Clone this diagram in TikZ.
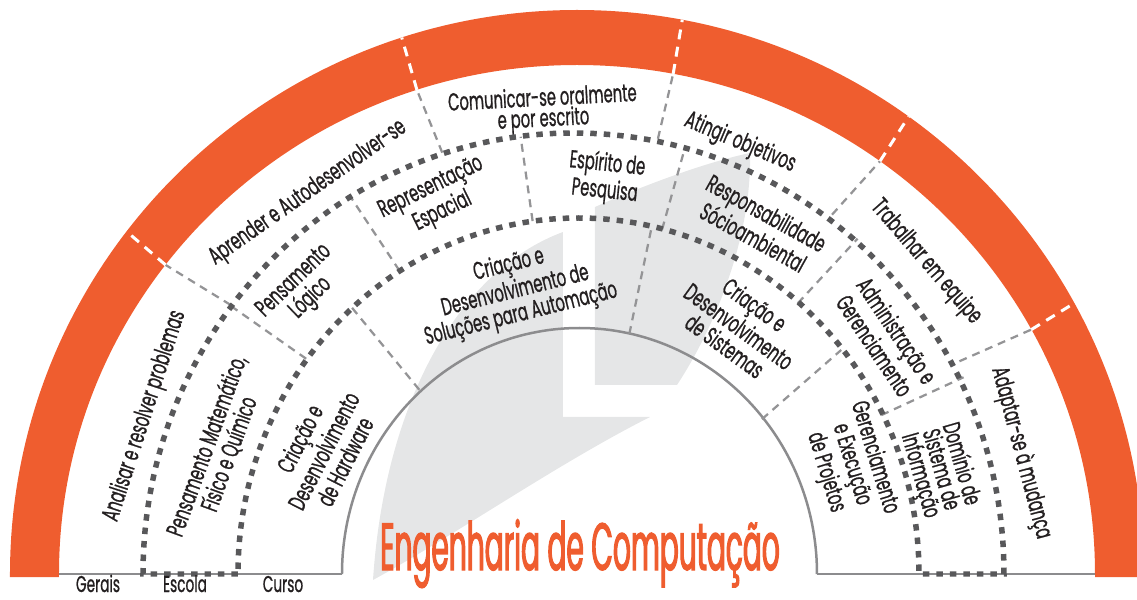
\documentclass[tikz,border=0pt]{standalone}
\usepackage{fontspec}
\setmainfont{Poppins}[FakeStretch=0.6, FakeBold=0.8]
\newfontfamily\titlefont{Poppins}[FakeStretch=0.42, FakeBold=1.6]
\usepackage{tikz}
\usetikzlibrary{calc}
\definecolor{ringorange}{RGB}{239,93,47}
\definecolor{dotgrey}{RGB}{88,88,90}
\definecolor{sepgrey}{RGB}{148,148,150}
\definecolor{logogrey}{RGB}{229,230,231}
\definecolor{groundgrey}{RGB}{140,140,142}
\definecolor{inkblack}{RGB}{35,31,32}
\tikzset{%
	ring/.style={fill=ringorange},
	bigdots/.style={draw=dotgrey, line width=0.11cm, dash pattern=on 0.13cm off 0.14cm},
	sep/.style={draw=sepgrey, line width=0.045cm, dash pattern=on 0.16cm off 0.12cm},
	ringsep/.style={draw=white, line width=0.06cm, dash pattern=on 0.2cm off 0.15cm},
	groundline/.style={draw=groundgrey, line width=0.05cm},
	logo/.style={fill=logogrey},
	lbl/.style={text=inkblack, align=center, inner sep=0pt, font=\fontsize{14}{13.6}\selectfont},
	bandlbl/.style={text=inkblack, inner sep=0pt, anchor=base, font=\fontsize{13}{13}\selectfont}
}

\begin{document}
\begin{tikzpicture}[x=0.02cm, y=0.02cm]
	\useasboundingbox (-577,-25) rectangle (560,574);

	% logo behind everything
	\fill[logo] (-204,-6) .. controls (-192,174) and (-117,304) .. (-14,342) -- (-14,157) -- (73,157)
		.. controls (-20,110) and (-120,40) .. (-204,-6) -- cycle;
	\fill[logo] (18,367) .. controls (70,390) and (130,412) .. (173,421)
		.. controls (175,340) and (140,250) .. (100,189) -- (18,189) -- cycle;

	% orange ring
	\fill[ring] (-567,-3) -- (-567,0) arc[start angle=180, end angle=0, x radius=567, y radius=564]
		-- (567,-3) -- (518,-3) -- (518,0) arc[start angle=0, end angle=180, x radius=518, y radius=509]
		-- (-518,-3) -- cycle;

	% ground line and inner arc
	\draw[groundline] (-518,0) -- (-235,0);
	\draw[groundline] (240,0) -- (518,0);
	\draw[groundline] (-235,0) arc[start angle=180, end angle=0, x radius=237.5, y radius=246];

	% separators
	\foreach \a in {142.6,108,79.3,54.2,28.7}{
		\draw[sep] (\a:436 and 443) -- (\a:518 and 509);
		\draw[ringsep] (\a:518 and 509) -- (\a:567 and 564);
	}
	\foreach \a in {142.8,121.5,97.5,75.5,49.5,26.5}
		\draw[sep] (\a:340 and 356) -- (\a:432 and 441);
	\foreach \a in {131.5,77.3,39}
		\draw[sep] (\a:238 and 246) -- (\a:340 and 356);

	% escola band
	\draw[bigdots] (-339,0) -- (-434,0) arc[start angle=180, end angle=0, x radius=430.5, y radius=441]
		-- (342,0) arc[start angle=0, end angle=180, x radius=340.5, y radius=356] -- cycle;

	% gerais
	\node[lbl, rotate=72] (analisar) at (-432,158) {Analisar e resolver problemas};
	\node[lbl, rotate=35] (aprender) at (-269,381) {Aprender e Autodesenvolver-se};
	\node[lbl, rotate=3, font=\fontsize{14}{10.5}\selectfont] (comunicar) at (-34,464) {Comunicar-se oralmente\\e por escrito};
	\node[lbl, rotate=-23] (atingir) at (163,431) {Atingir objetivos};
	\node[lbl, rotate=-49] (trabalhar) at (349,312) {Trabalhar em equipe};
	\node[lbl, rotate=-75] (adaptar) at (444,121) {Adaptar-se à mudança};

	% escola
	\node[lbl, rotate=70] (matematico) at (-359,124) {Pensamento Matemático,\\Físico e Químico};
	\node[lbl, rotate=44] (logico) at (-274,284) {Pensamento\\Lógico};
	\node[lbl, rotate=26] (espacial) at (-140,374) {Representação\\Espacial};
	\node[lbl, rotate=-6] (pesquisa) at (29,396) {Espírito de\\Pesquisa};
	\node[lbl, rotate=-29] (socio) at (183,349) {Responsabilidade\\Sócioambiental};
	\node[lbl, rotate=-56] (admin) at (309,236) {Administração e\\Gerenciamento};
	\node[lbl, rotate=-74, font=\fontsize{14}{12}\selectfont] (dominio) at (363,104) {Domínio de\\Sistema de\\Informação};

	% curso
	\node[lbl, rotate=63] (hardware) at (-255,124) {Criação e\\Desenvolvimento\\de Hardware};
	\node[lbl, rotate=14] (automacao) at (-62,284) {Criação e\\Desenvolvimento de\\Soluções para Automação};
	\node[lbl, rotate=-36] (sistemas) at (163,249) {Criação e\\Desenvolvimento\\de Sistemas};
	\node[lbl, rotate=-73] (projetos) at (273,109) {Gerenciamento\\e Execução\\de Projetos};

	% title and band names
	\node[text=ringorange, inner sep=0pt, anchor=base, font=\titlefont\fontsize{38}{40}\selectfont] (title) at (3,4) {Engenharia de Computação};
	\node[bandlbl] (gerais) at (-479,-18) {Gerais};
	\node[bandlbl] (escola) at (-392,-18) {Escola};
	\node[bandlbl] (curso) at (-294,-18) {Curso};
\end{tikzpicture}
\end{document}
